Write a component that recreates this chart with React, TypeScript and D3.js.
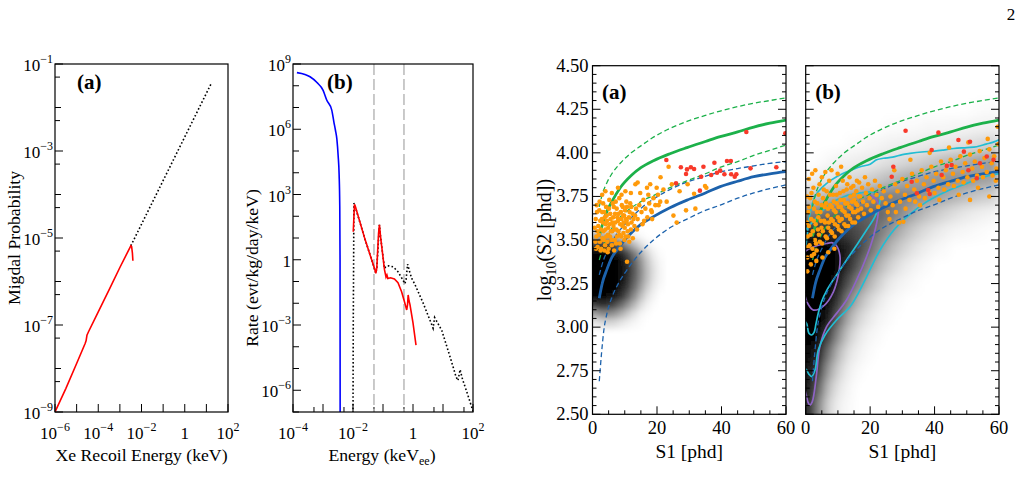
import React, { useEffect, useRef } from 'react';
import * as d3 from 'd3';

type Pt = [number, number];

const W = 1022;
const H = 497;
const FONT = '"Liberation Serif", "Times New Roman", Times, serif';

const pts = (s: string): Pt[] =>
  s.trim().split(/\s+/).map((p) => p.split(',').map(Number) as Pt);

// ---------- left figure (a): Migdal probability vs Xe recoil energy [keV, P]
const migdalCalc: Pt[] = [
  [1e-6, 1.0e-9], [3.2e-6, 3.5e-9], [1e-5, 1.3e-8], [2.5e-5, 3.8e-8],
  [2.75e-5, 4.4e-8], [3.0e-5, 5.8e-8], [3.5e-5, 6.9e-8], [1e-4, 2.0e-7],
  [3.2e-4, 6.5e-7], [1e-3, 2.1e-6], [3.2e-3, 6.6e-6], [3.5e-3, 6.3e-6],
  [3.8e-3, 4.5e-6], [4.0e-3, 3.0e-6],
];
const migdalExtrap: Pt[] = [[3.2e-3, 6.6e-6], [16, 3.4e-2]];
const probXDecades = [-6, -5, -4, -3, -2, -1, 0, 1, 2];
const probXLabels = [-6, -4, -2, 0, 2];
const probYDecades = [-9, -8, -7, -6, -5, -4, -3, -2, -1];
const probYFives = [5e-9, 5e-8, 5e-7, 5e-6, 5e-5, 5e-4, 5e-3, 5e-2];
const probYLabels = [-1, -3, -5, -7, -9];

// ---------- left figure (b): differential rates [keVee, evt/kg/day/keV]
const nrRate: Pt[] = [
  [1.35e-4, 4.0e8], [2.5e-4, 3.3e8], [3.7e-4, 2.6e8], [6.3e-4, 1.4e8],
  [1.0e-3, 6.3e7], [1.33e-3, 2.2e7], [1.95e-3, 7.8e6], [2.3e-3, 2.2e6],
  [2.6e-3, 9e5], [2.9e-3, 3.5e5], [3.2e-3, 6e4], [3.45e-3, 8e3],
  [3.62e-3, 3e2], [3.7e-3, 1], [3.73e-3, 6e-8],
];
const migdalRate: Pt[] = [
  [1.02e-2, 19.5], [1.12e-2, 355], [1.2e-2, 280], [2.5e-2, 8.9],
  [5.4e-2, 0.34], [5.75e-2, 0.24], [6.2e-2, 0.4], [7.1e-2, 15.8],
  [7.6e-2, 40], [8.3e-2, 11.2], [0.112, 0.35], [0.126, 0.16],
  [0.135, 0.2], [0.145, 0.138], [0.178, 0.148], [0.24, 0.132],
  [0.316, 0.089], [0.417, 0.034], [0.525, 0.0112], [0.617, 4.9e-3],
  [0.66, 8.9e-3], [0.69, 0.024], [0.74, 0.0126], [0.79, 8.9e-3],
  [1.0, 1.26e-3], [1.26, 1.2e-4],
];
const migdalRateFull: Pt[] = [
  [1e-2, 6e-8], [1.02e-2, 1e-3], [1.05e-2, 1], [1.07e-2, 400],
  [1.12e-2, 355], [2.5e-2, 8.9], [5.4e-2, 0.34], [5.75e-2, 0.24],
  [6.2e-2, 0.4], [7.6e-2, 40], [8.3e-2, 11.2], [0.112, 0.4],
  [0.126, 0.5], [0.158, 0.52], [0.22, 0.47], [0.316, 0.28],
  [0.447, 0.126], [0.537, 0.079], [0.59, 0.126], [0.66, 0.63],
  [0.79, 0.25], [0.91, 0.14], [1.17, 0.071], [2.19, 0.01],
  [3.98, 1.26e-3], [4.68, 7.1e-4], [5.25, 2.2e-3], [6.31, 1.4e-3],
  [9.12, 5.6e-4], [15.8, 5e-5], [27.5, 4e-6], [31.6, 2.8e-6],
  [37.2, 8.9e-6], [44.7, 3.2e-6], [63.1, 7.9e-7], [100, 1.1e-7],
];
const shellEdges = [0.05, 0.5];
const rateXDecades = [-4, -3, -2, -1, 0, 1, 2];
const rateXFives = [5e-4, 5e-3, 5e-2, 0.5, 5, 50];
const rateXLabels = [-4, -2, 0, 2];
const rateYDecades = d3.range(-7, 10);
const rateYLabels = [9, 6, 3, 0, -3, -6];

// ---------- right figure: S1 [phd] vs log10 S2 bands
const erMedian: Pt[] = [
  [2.1, 3.52], [3.4, 3.61], [4.5, 3.665], [6, 3.72], [8.6, 3.8], [12, 3.87],
  [15, 3.915], [18.9, 3.955], [24, 3.995], [29.3, 4.03], [35, 4.065],
  [39.6, 4.093], [45, 4.12], [50, 4.148], [55, 4.17], [60, 4.188],
];
const erUpper: Pt[] = [
  [2.1, 3.69], [3, 3.76], [4.5, 3.83], [6, 3.88], [8.6, 3.94], [12, 4.0],
  [15, 4.04], [18.9, 4.09], [24, 4.14], [29.3, 4.18], [35, 4.215],
  [39.6, 4.24], [45, 4.265], [50, 4.285], [55, 4.3], [60, 4.316],
];
const erLower: Pt[] = [
  [2.1, 3.385], [3.5, 3.47], [5.5, 3.55], [8, 3.62], [11, 3.67], [15, 3.72],
  [18.9, 3.755], [24, 3.8], [29.3, 3.84], [35, 3.88], [40, 3.92],
  [45, 3.95], [50, 3.985], [55, 4.015], [60, 4.045],
];
const nrMedian: Pt[] = [
  [2.1, 3.166], [3, 3.25], [4.45, 3.33], [6, 3.4], [7.6, 3.443], [9.5, 3.49],
  [11.7, 3.535], [15, 3.59], [18.9, 3.634], [24, 3.685], [29.3, 3.729],
  [35, 3.77], [39.6, 3.806], [45, 3.837], [50, 3.863], [55, 3.88], [60, 3.892],
];
const nrUpper: Pt[] = [
  [2.1, 3.3], [3.5, 3.39], [5, 3.45], [7, 3.52], [9.6, 3.58], [12.7, 3.64],
  [15.5, 3.69], [18.9, 3.735], [23, 3.78], [28.2, 3.825], [34, 3.86],
  [39.6, 3.89], [45, 3.91], [50, 3.925], [55, 3.94], [60, 3.949],
];
const nrLower: Pt[] = [
  [2.1, 2.69], [2.8, 2.85], [3.5, 2.98], [4.5, 3.08], [6, 3.17], [8, 3.25],
  [10, 3.31], [12.7, 3.38], [15, 3.43], [18.9, 3.5], [24, 3.57],
  [29.3, 3.62], [35, 3.67], [39.6, 3.7], [45, 3.74], [50, 3.77],
  [55, 3.795], [60, 3.816],
];

// contours of the (b) panel
const cyanOuter: Pt[] = [
  [-0.5, 3.4], [0.3, 3.5], [1.3, 3.65], [2.9, 3.75], [5, 3.8], [8, 3.845],
  [11.7, 3.883], [14, 3.9], [16.9, 3.92], [20, 3.935], [22, 3.96],
  [24.1, 3.969], [27, 3.975], [30, 3.99], [32.4, 3.997], [36, 4.005],
  [40, 4.01], [42.7, 4.016], [46, 4.025], [50, 4.03], [53.1, 4.035],
  [56, 4.05], [58, 4.06], [60.5, 4.078],
];
const cyanLower: Pt[] = [
  [60.5, 3.882], [55, 3.86], [50, 3.825], [43.8, 3.78], [37.6, 3.72],
  [32.5, 3.65], [27.5, 3.56], [23, 3.44], [18.9, 3.289], [16.3, 3.194],
  [13.75, 3.117], [9.6, 3.041], [6, 2.955], [3.9, 2.869], [2.9, 2.754],
  [1.86, 2.716], [1.0, 2.73], [0.3, 2.754], [-0.5, 2.77],
];
const cyanInner: Pt[] = [
  [-0.5, 3.04], [0.3, 3.02], [1.0, 2.965], [1.86, 2.955], [2.6, 2.97],
  [3.2, 3.02], [3.9, 3.08], [5, 3.15], [6.5, 3.21], [9.6, 3.3],
  [12.7, 3.385], [15.8, 3.47], [18.9, 3.557], [21.5, 3.634], [22.8, 3.7],
  [23, 3.75], [21, 3.775], [17, 3.77], [12, 3.75], [7, 3.7], [3, 3.62],
  [-0.5, 3.55],
];
const purpleInner: Pt[] = [
  [-0.5, 3.43], [1.3, 3.452], [4, 3.47], [6.5, 3.48], [8.1, 3.485],
  [9.4, 3.471], [10.6, 3.414], [10.4, 3.328], [8.6, 3.203], [5.5, 3.121],
  [2.4, 3.098], [0.8, 3.13], [-0.5, 3.2],
];
const purpleOuter: Pt[] = [
  [-0.5, 2.66], [0.3, 2.6], [0.8, 2.565], [1.34, 2.553], [2.0, 2.57],
  [2.6, 2.62], [3.4, 2.735], [4.4, 2.888], [6.5, 3.003], [9.6, 3.079],
  [12.7, 3.156], [15.8, 3.27], [18.9, 3.404], [21, 3.519], [22.5, 3.653],
  [22.3, 3.72], [20, 3.76],
];

// 2D histograms: rows from the top edge downward, columns from S1 = 0
const densA = [
  [0.3, 0.34, 0.3, 0.25, 0.18, 0.1, 0.05, 0.02, 0, 0, 0],
  [0.75, 0.78, 0.75, 0.68, 0.56, 0.4, 0.26, 0.13, 0.05, 0.01, 0],
  [1, 1, 0.98, 0.93, 0.85, 0.7, 0.52, 0.32, 0.16, 0.06, 0.01],
  [1, 1, 1, 1, 0.94, 0.8, 0.62, 0.42, 0.23, 0.1, 0.03],
  [1, 1, 1, 1, 0.95, 0.83, 0.65, 0.45, 0.26, 0.12, 0.04],
  [1, 1, 1, 1, 0.94, 0.81, 0.63, 0.43, 0.25, 0.11, 0.04],
  [1, 1, 1, 0.98, 0.9, 0.75, 0.56, 0.36, 0.19, 0.08, 0.02],
  [0.98, 0.99, 0.97, 0.91, 0.8, 0.63, 0.44, 0.25, 0.11, 0.04, 0],
  [0.76, 0.82, 0.78, 0.7, 0.57, 0.42, 0.27, 0.13, 0.05, 0.01, 0],
  [0.38, 0.45, 0.45, 0.4, 0.31, 0.2, 0.11, 0.04, 0.01, 0, 0],
  [0.1, 0.14, 0.16, 0.14, 0.1, 0.06, 0.03, 0.01, 0, 0, 0],
];
const densB = [
  [0, 0, 0, 0, 0, 0, 0, 0, 0, 0, 0, 0, 0, 0, 0, 0, 0, 0.01, 0.02, 0.02],
  [0, 0, 0, 0, 0, 0, 0, 0, 0.01, 0.01, 0.02, 0.02, 0.03, 0.03, 0.03, 0.04, 0.04, 0.05, 0.05, 0.06],
  [0, 0, 0, 0, 0.01, 0.02, 0.03, 0.04, 0.05, 0.06, 0.06, 0.07, 0.08, 0.09, 0.1, 0.11, 0.12, 0.14, 0.16, 0.18],
  [0, 0.01, 0.03, 0.05, 0.06, 0.07, 0.08, 0.1, 0.12, 0.14, 0.16, 0.18, 0.21, 0.24, 0.27, 0.3, 0.33, 0.36, 0.38, 0.4],
  [0.05, 0.08, 0.1, 0.12, 0.14, 0.16, 0.19, 0.22, 0.26, 0.3, 0.34, 0.37, 0.4, 0.42, 0.43, 0.43, 0.42, 0.4, 0.38, 0.36],
  [0.2, 0.25, 0.3, 0.33, 0.36, 0.4, 0.44, 0.48, 0.5, 0.5, 0.48, 0.45, 0.42, 0.38, 0.34, 0.3, 0.26, 0.23, 0.2, 0.18],
  [0.5, 0.55, 0.58, 0.6, 0.62, 0.63, 0.62, 0.6, 0.55, 0.48, 0.4, 0.32, 0.25, 0.2, 0.16, 0.12, 0.09, 0.07, 0.05, 0.04],
  [0.85, 0.88, 0.85, 0.8, 0.75, 0.7, 0.64, 0.54, 0.44, 0.34, 0.25, 0.18, 0.13, 0.09, 0.06, 0.04, 0.03, 0.02, 0.01],
  [1, 1, 1, 0.95, 0.86, 0.74, 0.6, 0.45, 0.32, 0.22, 0.15, 0.1, 0.06, 0.03, 0.02],
  [1, 1, 1, 0.96, 0.82, 0.64, 0.46, 0.31, 0.2, 0.12, 0.07, 0.04, 0.02],
  [1, 1, 1, 0.9, 0.68, 0.47, 0.31, 0.19, 0.1, 0.05, 0.03, 0.01],
  [1, 1, 0.97, 0.76, 0.48, 0.3, 0.17, 0.09, 0.04, 0.02],
  [1, 1, 0.88, 0.58, 0.32, 0.17, 0.09, 0.04, 0.02],
  [1, 0.96, 0.72, 0.42, 0.2, 0.09, 0.04, 0.02],
  [0.95, 0.86, 0.52, 0.26, 0.11, 0.05, 0.02],
  [0.92, 0.72, 0.36, 0.16, 0.06, 0.02],
  [0.88, 0.56, 0.23, 0.09, 0.03],
  [0.82, 0.42, 0.15, 0.05, 0.02],
];

// selected events
const orangeA = pts(`
1.2,3.52 1.8,3.58 2.3,3.49 2.9,3.62 3.4,3.55 3.9,3.47 4.4,3.64 4.8,3.53 5.3,3.59 5.9,3.50 6.4,3.63 6.8,3.56 7.3,3.48 7.9,3.61 8.4,3.53 8.8,3.66 9.3,3.58 9.9,3.50 10.4,3.62 10.9,3.55 11.5,3.66 12.1,3.60
1.0,3.62 1.6,3.46 2.1,3.67 2.6,3.56 3.1,3.51 3.6,3.66 4.1,3.59 4.6,3.49 5.1,3.68 5.6,3.62 6.1,3.55 6.6,3.69 7.1,3.60 7.6,3.52 8.1,3.65 8.6,3.59 9.1,3.70 9.6,3.54 10.1,3.67 10.6,3.61 11.1,3.52 11.7,3.71 12.4,3.65 13.0,3.58
0.7,3.57 1.4,3.66 2.0,3.53 2.7,3.45 3.2,3.60 3.8,3.63 4.3,3.52 4.9,3.57 5.5,3.65 6.0,3.47 6.5,3.58 7.0,3.65 7.5,3.68 8.0,3.55 8.5,3.48 9.0,3.62 9.5,3.64 10.0,3.57 10.7,3.69 11.3,3.63 12.0,3.69 12.7,3.62 13.5,3.68
0.9,3.49 1.5,3.55 2.4,3.61 3.0,3.66 3.5,3.50 4.0,3.56 4.5,3.61 5.0,3.45 5.4,3.52 6.2,3.60 6.9,3.50 7.4,3.56 8.2,3.62 8.9,3.52 9.7,3.60 10.3,3.52 11.0,3.59 11.9,3.56 13.2,3.64 14.0,3.62
1.3,3.70 2.2,3.72 3.3,3.71 4.2,3.69 5.2,3.73 6.3,3.71 7.2,3.72 8.3,3.74 9.4,3.69 10.5,3.72 2.5,3.44 4.7,3.43 6.7,3.44 8.7,3.45 1.1,3.45 3.7,3.44 5.7,3.55 7.7,3.63 9.8,3.64 11.4,3.49
14.5,3.70 15.2,3.66 15.8,3.73 16.4,3.68 17.0,3.63 17.6,3.71 18.2,3.67 18.9,3.74 19.5,3.70 20.3,3.76 21.0,3.72 14.8,3.77 16.0,3.61 17.3,3.76 18.5,3.62 13.8,3.56 15.5,3.59 12.5,3.51 16.9,3.80 19.9,3.80
4.0,3.78 6.0,3.77 7.9,3.80 10.2,3.78 13.3,3.82 11.9,3.77 9.0,3.76 3.0,3.76
21.1,3.86 22.0,3.79 23.0,3.72 23.6,3.92 24.6,3.82 25.1,3.64 26.1,3.60 27.0,3.78 29.0,3.67 29.5,3.82 31.5,3.765 31.9,3.68 34.9,3.81 35.3,3.80 10.7,3.375 14.0,3.83 17.9,3.82 20.5,3.70 18.4,3.66
`);
const redA = pts(`
22.9,3.959 25.9,3.825 27.4,3.917 29.0,3.879 29.3,3.905 30.5,3.917 31.5,3.907 33.7,3.863 34.4,3.92 36.8,3.873
37.8,3.943 38.6,3.886 39.6,3.898 40.9,3.877 41.7,3.953 42.9,3.953 43.0,3.877 44.1,3.863 44.6,3.877 47.7,4.12
49.0,3.911 57.0,3.917 59.8,4.112 33.3,3.783
`);
const orangeB = pts(`
0.5,3.40 0.6,3.52 0.8,3.66 1.0,3.58 1.2,3.47 1.4,3.74 1.7,3.62 1.9,3.41 2.2,3.55 2.4,3.80 2.6,3.68 2.9,3.50 3.1,3.59 3.4,3.44 3.6,3.71 3.9,3.63 4.1,3.53 4.3,3.82 4.6,3.66 4.9,3.57
5.1,3.48 5.4,3.74 5.7,3.61 5.9,3.69 6.2,3.52 6.5,3.78 6.8,3.64 7.0,3.57 7.3,3.84 7.6,3.70 7.9,3.62 8.2,3.54 8.5,3.76 8.8,3.67 9.1,3.59 9.4,3.81 9.7,3.71 10.0,3.63 10.3,3.56 10.6,3.77
10.9,3.69 11.2,3.62 11.5,3.84 11.8,3.73 12.1,3.66 12.4,3.58 12.7,3.79 13.0,3.71 13.3,3.64 13.6,3.86 13.9,3.75 14.2,3.68 14.5,3.60 14.8,3.81 15.1,3.73 15.4,3.66 15.7,3.78 16.0,3.70 16.3,3.63 16.6,3.83
16.9,3.75 17.2,3.68 17.5,3.80 17.8,3.72 18.1,3.65 18.4,3.86 18.7,3.77 19.0,3.70 19.4,3.82 19.8,3.74 20.2,3.67 20.6,3.79 21.0,3.72 21.5,3.84 22.0,3.76 22.5,3.69 23.0,3.81 23.6,3.74 24.2,3.78 24.8,3.71
0.7,3.46 1.1,3.69 1.5,3.53 1.8,3.77 2.1,3.45 2.5,3.61 2.8,3.72 3.2,3.48 3.5,3.66 3.8,3.56 4.0,3.76 4.4,3.49 4.7,3.61 5.0,3.70 5.3,3.55 5.6,3.79 6.0,3.60 6.3,3.71 6.6,3.51 6.9,3.68
7.2,3.60 7.5,3.76 7.8,3.55 8.1,3.69 8.4,3.61 8.7,3.72 9.0,3.52 9.3,3.66 9.6,3.76 9.9,3.58 10.2,3.69 10.5,3.61 10.8,3.73 11.1,3.55 11.4,3.67 11.7,3.78 12.0,3.59 12.3,3.71 12.6,3.64 12.9,3.82
13.2,3.58 13.5,3.69 13.8,3.62 14.1,3.80 14.4,3.72 14.7,3.66 15.0,3.76 15.3,3.60 15.6,3.71 15.9,3.84 16.2,3.67 16.5,3.75
1.0,3.85 2.0,3.88 3.0,3.90 5.0,3.86 6.1,3.89 8.0,3.90 9.9,3.88 11.0,3.92 0.4,3.60 0.4,3.75
1.6,3.36 3.3,3.38 5.2,3.40 7.0,3.43 8.9,3.45 0.5,3.32 2.6,3.42
25.5,3.66 26.3,3.75 27.0,3.70 27.8,3.82 28.5,3.78 29.3,3.72 30.0,3.85 30.8,3.76 31.5,3.81 32.2,3.73 33.0,3.88 33.7,3.79 34.5,3.84 35.2,3.75 36.0,3.90 36.7,3.82 37.5,3.86 38.2,3.78 39.0,3.92 39.7,3.84
40.5,3.88 41.2,3.80 42.0,3.95 42.7,3.86 43.5,3.90 44.2,3.82 45.0,3.96 45.7,3.88 46.5,3.92 47.2,3.84 48.0,3.98 48.7,3.89 49.5,3.94 50.2,3.86 51.0,3.99 51.7,3.91 52.5,3.95 53.2,3.87 54.0,4.01 54.7,3.92
55.5,3.97 56.2,3.89 57.0,4.02 57.7,3.94 58.5,3.98 59.2,3.91 59.8,4.05
26.0,3.62 28.0,3.66 31.0,3.68 34.0,3.72 37.0,3.74 40.0,3.77 43.0,3.79 46.0,3.81 49.0,3.83 52.0,3.84 55.0,3.86 58.0,3.87
27.5,3.90 32.5,3.96 38.5,4.00 44.5,4.03 50.5,4.06 56.5,4.08 59.6,4.15 29.0,3.60 35.5,3.70 41.5,3.73 47.5,3.76 53.5,3.80 59.0,3.84
51.0,3.73 30.3,3.605 57.0,3.75
`);
const redB = pts(`
31.0,4.127 41.2,4.116 47.4,4.074 51.0,4.064 39.1,4.016 27.2,3.92 26.7,3.863 38.0,3.787 38.5,3.764 43.8,3.925
53.1,3.854 56.2,3.979 58.3,3.96 54.1,3.94 32.9,3.834 49.1,4.007 45.3,3.93 34.5,3.768 42.2,3.873 50.5,3.9
`);

const bandYLabels = ['2.50', '2.75', '3.00', '3.25', '3.50', '3.75', '4.00', '4.25', '4.50'];
const bandXLabels = [0, 20, 40, 60];

const GREEN = '#1cb14a';
const BLUE = '#1c62ac';
const CYAN = '#22bdd3';
const PURPLE = '#8e63c6';
const ORANGE = '#ff9a0a';
const RED = '#f8392a';

function powLabel(t: any, e: number, size: number) {
  if (e === 0) {
    t.text('1');
    return;
  }
  t.append('tspan').text('10');
  t.append('tspan')
    .attr('dy', -Math.round(size * 0.45))
    .attr('font-size', Math.round(size * 0.7))
    .text(e < 0 ? '\u2212' + -e : String(e));
}

function box(g: any, L: number, R: number, T: number, B: number) {
  g.append('rect')
    .attr('x', L).attr('y', T)
    .attr('width', R - L).attr('height', B - T)
    .attr('fill', 'none').attr('stroke', '#000').attr('stroke-width', 1.2);
}

function drawLogPanel(svg: any, cfg: any) {
  const { L, R, T, B, xDomain, yDomain, xDec, xFive, xLab, yDec, yFive, yLab } = cfg;
  const x = d3.scaleLog().domain(xDomain).range([L, R]);
  const y = d3.scaleLog().domain(yDomain).range([B, T]);
  const g = svg.append('g');
  const ticks = g.append('g').attr('stroke', '#000').attr('stroke-width', 1);

  xDec.forEach((e: number) => {
    const px = x(Math.pow(10, e));
    ticks.append('line').attr('x1', px).attr('x2', px).attr('y1', B).attr('y2', B - 8);
  });
  xFive.forEach((v: number) => {
    const px = x(v);
    ticks.append('line').attr('x1', px).attr('x2', px).attr('y1', B).attr('y2', B - 5);
  });
  yDec.forEach((e: number) => {
    const py = y(Math.pow(10, e));
    const len = yLab.includes(e) ? 8 : 6;
    ticks.append('line').attr('x1', L).attr('x2', L + len).attr('y1', py).attr('y2', py);
  });
  yFive.forEach((v: number) => {
    const py = y(v);
    ticks.append('line').attr('x1', L).attr('x2', L + 5).attr('y1', py).attr('y2', py);
  });

  xLab.forEach((e: number) => {
    const t = g.append('text')
      .attr('x', x(Math.pow(10, e))).attr('y', B + 27)
      .attr('text-anchor', 'middle')
      .attr('font-family', FONT).attr('font-size', 17);
    powLabel(t, e, 17);
  });
  yLab.forEach((e: number) => {
    const t = g.append('text')
      .attr('x', L - 2).attr('y', y(Math.pow(10, e)) + 7)
      .attr('text-anchor', 'end')
      .attr('font-family', FONT).attr('font-size', 17);
    powLabel(t, e, 17);
  });

  const clipId = cfg.id + '-clip';
  svg.select('defs').append('clipPath').attr('id', clipId)
    .append('rect').attr('x', L).attr('y', T).attr('width', R - L).attr('height', B - T);
  const plot = g.append('g').attr('clip-path', `url(#${clipId})`);
  return { x, y, g, plot };
}

function drawProbability(svg: any) {
  const L = 55, R = 228, T = 64, B = 412;
  const { x, y, g, plot } = drawLogPanel(svg, {
    id: 'prob', L, R, T, B,
    xDomain: [1e-6, 1e2], yDomain: [1e-9, 1e-1],
    xDec: probXDecades, xFive: [], xLab: probXLabels,
    yDec: probYDecades, yFive: probYFives, yLab: probYLabels,
  });
  const line = d3.line<Pt>().x((d) => x(d[0])).y((d) => y(d[1]));

  plot.append('path').attr('d', line(migdalExtrap))
    .attr('fill', 'none').attr('stroke', '#000').attr('stroke-width', 1.6)
    .attr('stroke-dasharray', '1.6,2.2');
  plot.append('path').attr('d', line(migdalCalc))
    .attr('fill', 'none').attr('stroke', '#f00').attr('stroke-width', 1.6);

  box(g, L, R, T, B);
  g.append('text').attr('x', 77).attr('y', 89)
    .attr('font-family', FONT).attr('font-size', 21).attr('font-weight', 'bold').text('(a)');
  g.append('text').attr('x', (L + R) / 2).attr('y', 461).attr('text-anchor', 'middle')
    .attr('font-family', FONT).attr('font-size', 17.7).text('Xe Recoil Energy (keV)');
  g.append('text').attr('transform', 'translate(20,238) rotate(-90)').attr('text-anchor', 'middle')
    .attr('font-family', FONT).attr('font-size', 17.7).text('Migdal Probability');
}

function drawRate(svg: any) {
  const L = 293, R = 473, T = 64, B = 412;
  const { x, y, g, plot } = drawLogPanel(svg, {
    id: 'rate', L, R, T, B,
    xDomain: [1e-4, 1e2], yDomain: [1e-7, 1e9],
    xDec: rateXDecades, xFive: rateXFives, xLab: rateXLabels,
    yDec: rateYDecades, yFive: [], yLab: rateYLabels,
  });
  const line = d3.line<Pt>().x((d) => x(d[0])).y((d) => y(d[1]));
  const smooth = d3.line<Pt>().x((d) => x(d[0])).y((d) => y(d[1])).curve(d3.curveMonotoneX);

  shellEdges.forEach((e) => {
    plot.append('line').attr('x1', x(e)).attr('x2', x(e)).attr('y1', T).attr('y2', B)
      .attr('stroke', '#bdbdbd').attr('stroke-width', 1.6).attr('stroke-dasharray', '11,4');
  });
  plot.append('path').attr('d', line(migdalRateFull))
    .attr('fill', 'none').attr('stroke', '#000').attr('stroke-width', 1.6)
    .attr('stroke-dasharray', '1.6,2.2');
  plot.append('path').attr('d', line(migdalRate))
    .attr('fill', 'none').attr('stroke', '#f00').attr('stroke-width', 1.6);
  plot.append('path').attr('d', smooth(nrRate))
    .attr('fill', 'none').attr('stroke', '#00f').attr('stroke-width', 1.6);

  box(g, L, R, T, B);
  g.append('text').attr('x', 327).attr('y', 89)
    .attr('font-family', FONT).attr('font-size', 21).attr('font-weight', 'bold').text('(b)');
  const xl = g.append('text').attr('x', 382).attr('y', 461).attr('text-anchor', 'middle')
    .attr('font-family', FONT).attr('font-size', 17.7);
  xl.append('tspan').text('Energy (keV');
  xl.append('tspan').attr('dy', 4).attr('font-size', 12).text('ee');
  xl.append('tspan').attr('dy', -4).text(')');
  g.append('text').attr('transform', 'translate(258,268) rotate(-90)').attr('text-anchor', 'middle')
    .attr('font-family', FONT).attr('font-size', 17.7).text('Rate (evt/kg/day/keV)');
}

function drawS1S2(svg: any, cfg: any) {
  const { id, L, R, tag, dens, densDx, densDy, densTop, blur } = cfg;
  const T = 65.7, B = 414.3;
  const x = d3.scaleLinear().domain([0, 60]).range([L, R]);
  const y = d3.scaleLinear().domain([2.5, 4.5]).range([B, T]);
  const g = svg.append('g');
  const defs = svg.select('defs');

  const clipId = id + '-clip';
  defs.append('clipPath').attr('id', clipId)
    .append('rect').attr('x', L).attr('y', T).attr('width', R - L).attr('height', B - T);
  const blurId = id + '-blur';
  defs.append('filter').attr('id', blurId)
    .attr('x', -0.1).attr('y', -0.1).attr('width', 1.2).attr('height', 1.2)
    .append('feGaussianBlur').attr('stdDeviation', blur);

  const plot = g.append('g').attr('clip-path', `url(#${clipId})`);

  // 2D histogram, smoothed
  const hist = plot.append('g').attr('filter', `url(#${blurId})`);
  const grey = d3.interpolateRgb('#ffffff', '#000000');
  dens.forEach((row: number[], i: number) => {
    const yHi = densTop - i * densDy;
    const py0 = y(yHi);
    let py1 = y(yHi - densDy);
    if (i === dens.length - 1 && yHi - densDy <= 2.5) py1 += 14;
    for (let j = 0; j < cfg.densCols; j++) {
      const v = row[j] ?? 0;
      let px0 = x(j * densDx);
      const px1 = x((j + 1) * densDx);
      if (j === 0) px0 -= 14;
      hist.append('rect')
        .attr('x', px0).attr('y', py0)
        .attr('width', px1 - px0 + 0.6).attr('height', py1 - py0 + 0.6)
        .attr('fill', grey(Math.min(1, v)));
    }
  });

  const smooth = d3.line<Pt>().x((d) => x(d[0])).y((d) => y(d[1])).curve(d3.curveMonotoneX);
  const loop = d3.line<Pt>().x((d) => x(d[0])).y((d) => y(d[1])).curve(d3.curveCatmullRom.alpha(0.5));

  if (cfg.contours) {
    const c = plot.append('g').attr('fill', 'none').attr('stroke-width', 1.7);
    c.append('path').attr('d', loop(purpleOuter)).attr('stroke', PURPLE);
    c.append('path').attr('d', loop(purpleInner)).attr('stroke', PURPLE);
    c.append('path').attr('d', loop(cyanOuter)).attr('stroke', CYAN);
    c.append('path').attr('d', loop(cyanLower)).attr('stroke', CYAN);
    c.append('path').attr('d', loop(cyanInner)).attr('stroke', CYAN);
  }

  const bands = plot.append('g').attr('fill', 'none');
  bands.append('path').attr('d', smooth(nrUpper)).attr('stroke', BLUE).attr('stroke-width', 1.3).attr('stroke-dasharray', '5,3');
  bands.append('path').attr('d', smooth(nrLower)).attr('stroke', BLUE).attr('stroke-width', 1.3).attr('stroke-dasharray', '5,3');
  bands.append('path').attr('d', smooth(erUpper)).attr('stroke', GREEN).attr('stroke-width', 1.3).attr('stroke-dasharray', '5,3');
  bands.append('path').attr('d', smooth(erLower)).attr('stroke', GREEN).attr('stroke-width', 1.3).attr('stroke-dasharray', '5,3');
  bands.append('path').attr('d', smooth(nrMedian)).attr('stroke', BLUE).attr('stroke-width', 2.8);
  bands.append('path').attr('d', smooth(erMedian)).attr('stroke', GREEN).attr('stroke-width', 2.8);

  plot.append('g').selectAll('circle').data(cfg.orange).enter().append('circle')
    .attr('cx', (d: Pt) => x(d[0])).attr('cy', (d: Pt) => y(d[1])).attr('r', 2.3)
    .attr('fill', ORANGE);
  plot.append('g').selectAll('circle').data(cfg.red).enter().append('circle')
    .attr('cx', (d: Pt) => x(d[0])).attr('cy', (d: Pt) => y(d[1])).attr('r', 2.3)
    .attr('fill', RED);

  // ticks on left, right and bottom
  const ticks = g.append('g').attr('stroke', '#000').attr('stroke-width', 1);
  d3.range(0, 41).forEach((i) => {
    const py = y(2.5 + i * 0.05);
    const len = i % 5 === 0 ? 8 : 4;
    ticks.append('line').attr('x1', L).attr('x2', L + len).attr('y1', py).attr('y2', py);
    ticks.append('line').attr('x1', R).attr('x2', R - len).attr('y1', py).attr('y2', py);
  });
  d3.range(0, 13).forEach((i) => {
    const px = x(i * 5);
    const len = i % 4 === 0 ? 8 : 4;
    ticks.append('line').attr('x1', px).attr('x2', px).attr('y1', B).attr('y2', B - len);
  });

  box(g, L, R, T, B);

  bandXLabels.forEach((v) => {
    g.append('text').attr('x', x(v)).attr('y', B + 20).attr('text-anchor', 'middle')
      .attr('font-family', FONT).attr('font-size', 18.5).text(String(v));
  });
  if (cfg.yAxis) {
    bandYLabels.forEach((s) => {
      g.append('text').attr('x', L - 4).attr('y', y(+s) + 6).attr('text-anchor', 'end')
        .attr('font-family', FONT).attr('font-size', 18.5).text(s);
    });
    const yl = g.append('text').attr('transform', `translate(551,${(T + B) / 2}) rotate(-90)`)
      .attr('text-anchor', 'middle').attr('font-family', FONT).attr('font-size', 20);
    yl.append('tspan').text('log');
    yl.append('tspan').attr('dy', 5).attr('font-size', 14).text('10');
    yl.append('tspan').attr('dy', -5).text('(S2 [phd])');
  }
  g.append('text').attr('x', (L + R) / 2).attr('y', 458).attr('text-anchor', 'middle')
    .attr('font-family', FONT).attr('font-size', 19.5).text('S1 [phd]');
  g.append('text').attr('x', L + 9.5).attr('y', 99)
    .attr('font-family', FONT).attr('font-size', 21).attr('font-weight', 'bold').text(tag);
}

export default function App() {
  const ref = useRef<SVGSVGElement | null>(null);

  useEffect(() => {
    const svg = d3.select(ref.current);
    svg.selectAll('*').remove();
    svg.append('defs');
    svg.append('rect').attr('width', W).attr('height', H).attr('fill', '#fff');

    drawProbability(svg);
    drawRate(svg);
    drawS1S2(svg, {
      id: 'bandA', L: 592.5, R: 786, tag: '(a)', yAxis: true,
      dens: densA, densDx: 2, densDy: 0.05, densTop: 3.55, densCols: 11, blur: '2.5 3',
      orange: orangeA, red: redA, contours: false,
    });
    drawS1S2(svg, {
      id: 'bandB', L: 805.7, R: 999, tag: '(b)', yAxis: false,
      dens: densB, densDx: 3, densDy: 0.1, densTop: 4.3, densCols: 20, blur: '4 6',
      orange: orangeB, red: redB, contours: true,
    });

    svg.append('text').attr('x', 1011).attr('y', 20).attr('text-anchor', 'middle')
      .attr('font-family', FONT).attr('font-size', 17).text('2');
  }, []);

  return (
    <svg ref={ref} width={W} height={H} style={{ position: 'absolute', left: 0, top: 0 }} />
  );
}
